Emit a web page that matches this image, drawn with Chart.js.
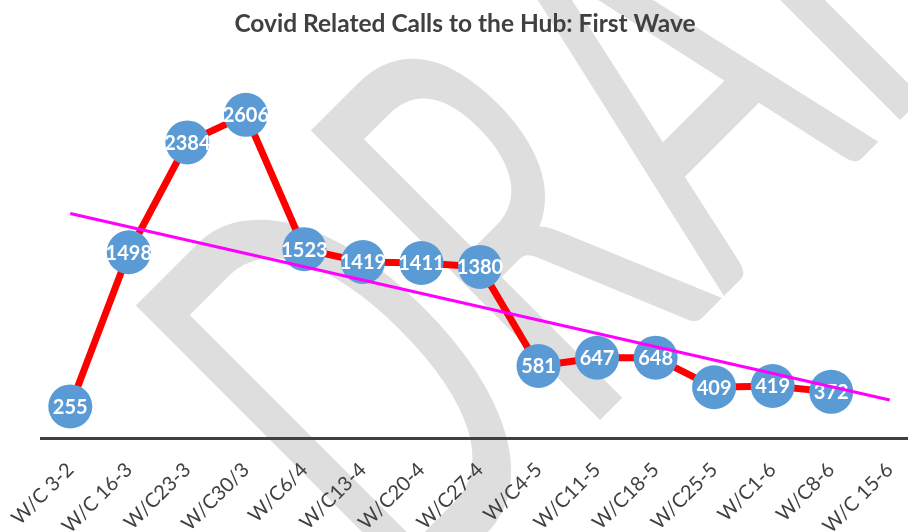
<!DOCTYPE html>
<html>
<head>
<meta charset="utf-8">
<script src="https://cdn.jsdelivr.net/npm/chart.js@4.4.0/dist/chart.umd.min.js"></script>
<style>
  html, body { margin: 0; padding: 0; background: #fff; overflow: hidden; }
  #wrap { width: 930px; height: 532px; }
</style>
</head>
<body>
<div id="wrap"><canvas id="calls" width="930" height="532"></canvas></div>
<script>
// weeks (last one has no value yet)
const weeks = ['W/C 3-2', 'W/C 16-3', 'W/C23-3', 'W/C30/3', 'W/C6/4', 'W/C13-4', 'W/C20-4',
               'W/C27-4', 'W/C4-5', 'W/C11-5', 'W/C18-5', 'W/C25-5', 'W/C1-6', 'W/C8-6', 'W/C 15-6'];
const calls = [255, 1498, 2384, 2606, 1523, 1419, 1411, 1380, 581, 647, 648, 409, 419, 372, null];
// linear trend line at both ends
const trend = [1810, null, null, null, null, null, null, null, null, null, null, null, null, null, 307];
const chartTitle = 'Covid Related Calls to the Hub: First Wave';

// big grey DRAFT watermark behind everything
const watermark = {
    id: 'watermark',
    beforeDraw(chart) {
        const ctx = chart.ctx;
        ctx.save();
        ctx.translate(404, 616);
        ctx.rotate(-Math.PI / 4);
        ctx.scale(0.57, 1);
        ctx.font = '400 571px Lato';
        ctx.fillStyle = '#dedede';
        ctx.textBaseline = 'alphabetic';
        ctx.fillText('DRAFT', 0, 0);
        ctx.restore();
    }
};

// white values inside the blue markers (drawn before the trend line)
const valueLabels = {
    id: 'valueLabels',
    afterDatasetDraw(chart, args) {
        if (args.index !== 0) return;
        const ctx = chart.ctx;
        ctx.save();
        ctx.font = 'bold 20px Lato';
        ctx.fillStyle = '#ffffff';
        ctx.textAlign = 'center';
        ctx.textBaseline = 'middle';
        args.meta.data.forEach((pt, i) => {
            if (calls[i] == null) return;
            ctx.fillText(String(calls[i]), pt.x, pt.y + 1);
        });
        ctx.restore();
    }
};

// title, centred on the page rather than on the plot
const titleText = {
    id: 'titleText',
    afterDraw(chart) {
        const ctx = chart.ctx;
        ctx.save();
        ctx.font = 'bold 24.5px Lato';
        ctx.fillStyle = '#404040';
        ctx.textAlign = 'center';
        ctx.textBaseline = 'alphabetic';
        ctx.fillText(chartTitle, 465, 32);
        ctx.restore();
    }
};

new Chart(document.getElementById('calls'), {
    type: 'line',
    data: {
        labels: weeks,
        datasets: [{
            data: calls,
            order: 1,
            borderColor: '#ff0000',
            borderWidth: 7,
            pointRadius: 22,
            pointBackgroundColor: '#5b9bd5',
            pointBorderWidth: 0,
            tension: 0
        }, {
            data: trend,
            order: 0,
            spanGaps: true,
            borderColor: '#ff00ff',
            borderWidth: 3,
            pointRadius: 0,
            tension: 0
        }]
    },
    options: {
        responsive: false,
        animation: false,
        events: [],
        layout: {
            autoPadding: false,
            padding: { left: 41, right: 11, top: 66, bottom: 0 }
        },
        plugins: {
            legend: { display: false },
            tooltip: { enabled: false },
            title: { display: false }
        },
        scales: {
            x: {
                offset: true,
                grid: { display: false },
                border: { display: true, color: '#404040', width: 3 },
                ticks: {
                    color: '#404040',
                    font: { family: 'Lato', size: 20 },
                    maxRotation: 45,
                    minRotation: 45,
                    padding: 12,
                    autoSkip: false
                },
                afterFit(scale) {
                    scale.height = 94;
                    scale.paddingLeft = 0;
                    scale.paddingRight = 0;
                }
            },
            y: {
                display: false,
                min: 0,
                max: 3000
            }
        }
    },
    plugins: [watermark, valueLabels, titleText]
});
</script>
</body>
</html>
